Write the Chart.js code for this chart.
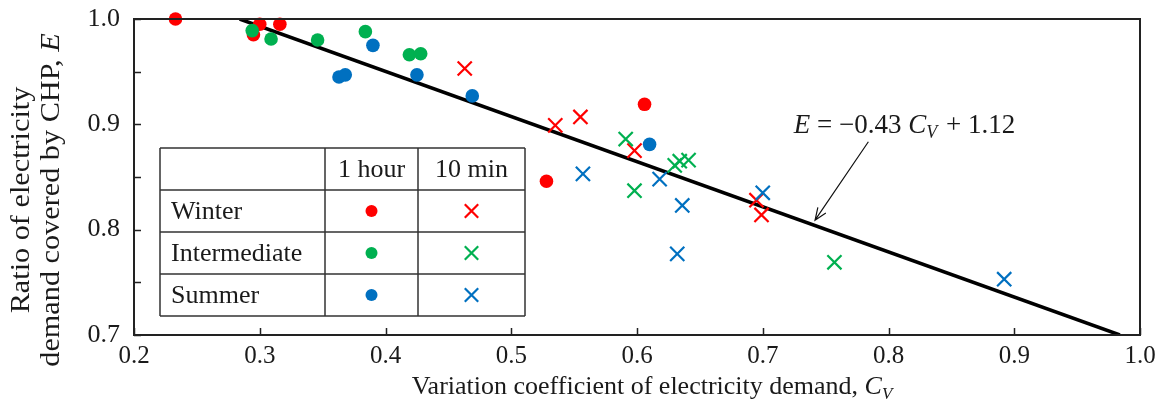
<!DOCTYPE html>
<html>
<head>
<meta charset="utf-8">
<script src="https://cdn.jsdelivr.net/npm/chart.js@4/dist/chart.umd.min.js"></script>
<style>
html,body{margin:0;padding:0;background:#fff;}
#wrap{width:1168px;height:405px;}
</style>
</head>
<body>
<div id="wrap"><canvas id="c" width="1168" height="405"></canvas></div>
<script>
// ---- data ----
const winter1hX = [0.233, 0.295, 0.300, 0.316, 0.528, 0.606];
const winter1hY = [1.000, 0.985, 0.995, 0.995, 0.846, 0.919];
const inter1hX  = [0.294, 0.309, 0.346, 0.384, 0.419, 0.428];
const inter1hY  = [0.989, 0.981, 0.980, 0.988, 0.966, 0.967];
const summer1hX = [0.363, 0.368, 0.390, 0.425, 0.469, 0.610];
const summer1hY = [0.945, 0.947, 0.975, 0.947, 0.927, 0.881];
const winter10X = [0.463, 0.535, 0.555, 0.598, 0.695, 0.699];
const winter10Y = [0.953, 0.899, 0.907, 0.875, 0.828, 0.814];
const inter10X  = [0.591, 0.598, 0.630, 0.634, 0.641, 0.757];
const inter10Y  = [0.886, 0.837, 0.861, 0.865, 0.866, 0.769];
const summer10X = [0.557, 0.618, 0.636, 0.632, 0.700, 0.892];
const summer10Y = [0.853, 0.848, 0.823, 0.777, 0.835, 0.753];
const fitLineX  = [0.284, 0.984];
const fitLineY  = [1.000, 0.700];
const seasonNames = ['Winter', 'Intermediate', 'Summer'];
const resolutionNames = ['1 hour', '10 min'];
const xAxisTitle = 'Variation coefficient of electricity demand, ';
const yAxisTitleLines = ['Ratio of electricity', 'demand covered by CHP, '];

// ---- styling ----
const RED = '#FF0000', GREEN = '#00B050', BLUE = '#0070C0';
const seasonColors = [RED, GREEN, BLUE];
const SERIF = '"Liberation Serif", "Times New Roman", serif';
const TXT = '#1a1a1a';

function pts(xs, ys) { return xs.map((x, i) => ({ x: x, y: ys[i] })); }

function circleDs(label, xs, ys, color) {
  return { label, data: pts(xs, ys), pointStyle: 'circle', pointRadius: 6.8,
    backgroundColor: color, borderColor: color, borderWidth: 0, showLine: false, clip: false };
}
function crossDs(label, xs, ys, color) {
  return { label, data: pts(xs, ys), pointStyle: 'crossRot', pointRadius: 10,
    backgroundColor: color, borderColor: color, borderWidth: 2.2, showLine: false, clip: false };
}

const decor = {
  id: 'decor',
  afterDatasetsDraw(chart) {
    const ctx = chart.ctx, a = chart.chartArea;
    const xs = chart.scales.x, ys = chart.scales.y;
    ctx.save();
    // frame
    ctx.strokeStyle = '#222';
    ctx.lineWidth = 2;
    ctx.strokeRect(a.left, a.top, a.right - a.left, a.bottom - a.top);
    // inward ticks
    ctx.lineWidth = 1.5;
    ctx.beginPath();
    xs.ticks.forEach(t => {
      const px = Math.round(xs.getPixelForValue(t.value)) + 0.5;
      ctx.moveTo(px, a.bottom); ctx.lineTo(px, a.bottom - 7);
    });
    ys.ticks.forEach(t => {
      const py = Math.round(ys.getPixelForValue(t.value)) + 0.5;
      ctx.moveTo(a.left, py); ctx.lineTo(a.left + 7, py);
    });
    ctx.stroke();

    // legend table
    const L = 160, R = 525, T = 148, B = 316;
    const cols = [L, 325, 418, R];
    const rows = [T, 190, 232, 274, B];
    ctx.fillStyle = '#fff';
    ctx.fillRect(L, T, R - L, B - T);
    ctx.strokeStyle = '#333';
    ctx.lineWidth = 1.5;
    ctx.beginPath();
    rows.forEach(r => { ctx.moveTo(L, r); ctx.lineTo(R, r); });
    cols.forEach(c => { ctx.moveTo(c, T); ctx.lineTo(c, B); });
    ctx.stroke();
    ctx.fillStyle = TXT;
    ctx.font = '26px ' + SERIF;
    ctx.textBaseline = 'middle';
    ctx.textAlign = 'center';
    resolutionNames.forEach((n, i) => {
      ctx.fillText(n, (cols[i + 1] + cols[i + 2]) / 2, (rows[0] + rows[1]) / 2 + 1);
    });
    ctx.textAlign = 'left';
    seasonNames.forEach((n, i) => {
      const cy = (rows[i + 1] + rows[i + 2]) / 2;
      ctx.fillStyle = TXT;
      ctx.fillText(n, 171, cy + 1);
      const col = seasonColors[i];
      ctx.fillStyle = col; ctx.strokeStyle = col;
      Chart.helpers.drawPoint(ctx, { pointStyle: 'circle', radius: 6, borderWidth: 0 },
        (cols[1] + cols[2]) / 2, cy);
      ctx.lineWidth = 2.2;
      Chart.helpers.drawPoint(ctx, { pointStyle: 'crossRot', radius: 9.5, borderWidth: 2.2 },
        (cols[2] + cols[3]) / 2, cy);
    });

    // regression annotation
    const tailX = xs.getPixelForValue(0.784), tailY = ys.getPixelForValue(0.8835);
    const tipX = xs.getPixelForValue(0.7416), tipY = ys.getPixelForValue(0.809);
    ctx.strokeStyle = '#111';
    ctx.lineWidth = 1.2;
    ctx.beginPath();
    ctx.moveTo(tailX, tailY); ctx.lineTo(tipX, tipY);
    const ang = Math.atan2(tipY - tailY, tipX - tailX);
    const hl = 13, hw = 0.38;
    ctx.moveTo(tipX - hl * Math.cos(ang - hw), tipY - hl * Math.sin(ang - hw));
    ctx.lineTo(tipX, tipY);
    ctx.lineTo(tipX - hl * Math.cos(ang + hw), tipY - hl * Math.sin(ang + hw));
    ctx.stroke();

    let tx = xs.getPixelForValue(0.7247);
    const tb = ys.getPixelForValue(0.8917);
    ctx.fillStyle = TXT;
    ctx.textBaseline = 'alphabetic';
    ctx.textAlign = 'left';
    const segs = [
      ['italic 27px ' + SERIF, 'E', 0],
      ['27px ' + SERIF, ' = \u22120.43 ', 0],
      ['italic 27px ' + SERIF, 'C', 0],
      ['italic 18px ' + SERIF, 'V', 5],
      ['27px ' + SERIF, ' + 1.12', 0]
    ];
    segs.forEach(s => {
      ctx.font = s[0];
      ctx.fillText(s[1], tx, tb + s[2]);
      tx += ctx.measureText(s[1]).width + (s[1] === 'V' ? 2 : 0);
    });

    // x axis title
    ctx.font = '26px ' + SERIF;
    const w1 = ctx.measureText(xAxisTitle).width;
    ctx.font = 'italic 26px ' + SERIF;
    const w2 = ctx.measureText('C').width;
    ctx.font = 'italic 17px ' + SERIF;
    const w3 = ctx.measureText('V').width;
    let xt = 652 - (w1 + w2 + w3) / 2;
    const xb = 394;
    ctx.fillStyle = TXT;
    ctx.font = '26px ' + SERIF; ctx.fillText(xAxisTitle, xt, xb); xt += w1;
    ctx.font = 'italic 26px ' + SERIF; ctx.fillText('C', xt, xb); xt += w2;
    ctx.font = 'italic 17px ' + SERIF; ctx.fillText('V', xt, xb + 5);

    // y axis title (two lines, rotated)
    const lineCenters = [22, 52];
    yAxisTitleLines.forEach((line, i) => {
      ctx.save();
      ctx.translate(lineCenters[i], 200);
      ctx.rotate(-Math.PI / 2);
      ctx.scale(1.12, 1);
      ctx.textBaseline = 'middle';
      ctx.font = '27px ' + SERIF;
      let full = ctx.measureText(line).width;
      let extra = 0;
      if (i === 1) { ctx.font = 'italic 27px ' + SERIF; extra = ctx.measureText('E').width; }
      let sx = -(full + extra) / 2;
      ctx.font = '27px ' + SERIF;
      ctx.textAlign = 'left';
      ctx.fillText(line, sx, 0);
      if (i === 1) { ctx.font = 'italic 27px ' + SERIF; ctx.fillText('E', sx + full, 0); }
      ctx.restore();
    });
    ctx.restore();
  }
};

new Chart(document.getElementById('c'), {
  type: 'scatter',
  data: {
    datasets: [
      circleDs('Intermediate 1 hour', inter1hX, inter1hY, GREEN),
      circleDs('Summer 1 hour', summer1hX, summer1hY, BLUE),
      circleDs('Winter 1 hour', winter1hX, winter1hY, RED),
      crossDs('Intermediate 10 min', inter10X, inter10Y, GREEN),
      crossDs('Summer 10 min', summer10X, summer10Y, BLUE),
      crossDs('Winter 10 min', winter10X, winter10Y, RED),
      { label: 'Fit', type: 'line', data: pts(fitLineX, fitLineY), borderColor: '#000',
        borderWidth: 3.5, pointRadius: 0, showLine: true, fill: false, tension: 0 }
    ]
  },
  options: {
    responsive: false,
    devicePixelRatio: 1,
    animation: false,
    events: [],
    layout: { padding: { top: 19, right: 28, left: 0, bottom: 0 } },
    plugins: { legend: { display: false }, tooltip: { enabled: false } },
    scales: {
      x: {
        type: 'linear', min: 0.2, max: 1.0,
        grid: { display: false, drawTicks: false },
        border: { display: false },
        ticks: { stepSize: 0.1, padding: 6, color: TXT, font: { family: SERIF, size: 25 },
          callback: v => v.toFixed(1) },
        afterFit: s => { s.height = 70; s.paddingLeft = 0; s.paddingRight = 0; }
      },
      y: {
        type: 'linear', min: 0.7, max: 1.0,
        grid: { display: false, drawTicks: false },
        border: { display: false },
        ticks: { stepSize: 0.05, autoSkip: false, padding: 14, color: TXT,
          font: { family: SERIF, size: 26 },
          callback: v => (Math.abs(v * 10 - Math.round(v * 10)) < 1e-6 ? v.toFixed(1) : '') },
        afterFit: s => { s.width = 134; s.paddingTop = 0; s.paddingBottom = 0; }
      }
    }
  },
  plugins: [decor]
});
</script>
</body>
</html>
